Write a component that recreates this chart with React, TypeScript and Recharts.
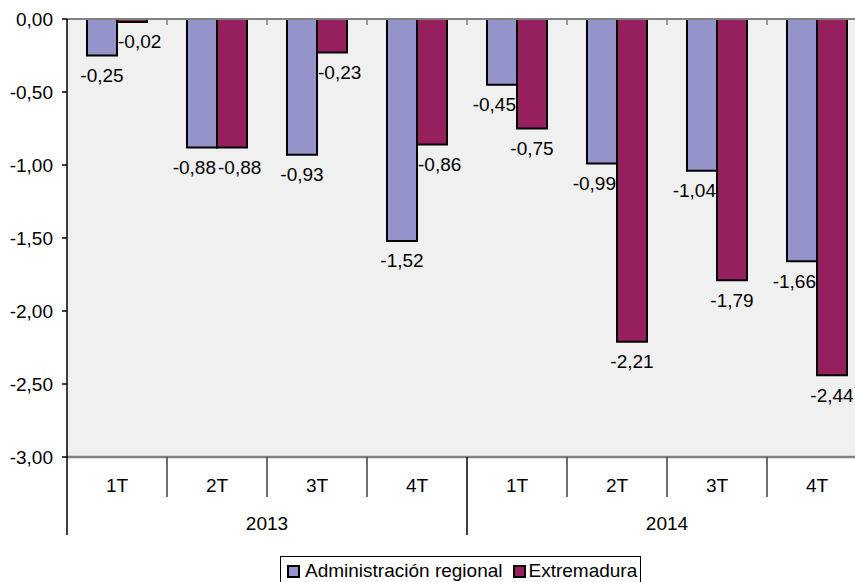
import { Bar, BarChart, CartesianGrid, LabelList, Legend, ReferenceLine, XAxis, YAxis } from 'recharts';

const quarters = ['1T', '2T', '3T', '4T', '1T', '2T', '3T', '4T'];
const years = ['2013', '2014'];
const adminRegional = [-0.25, -0.88, -0.93, -1.52, -0.45, -0.99, -1.04, -1.66];
const extremadura = [-0.02, -0.88, -0.23, -0.86, -0.75, -2.21, -1.79, -2.44];
const yTicks = [0, -0.5, -1, -1.5, -2, -2.5, -3];

const data = quarters.map((q, i) => ({
  key: `${years[Math.floor(i / 4)]}-${q}`,
  quarter: q,
  year: years[Math.floor(i / 4)],
  admin: adminRegional[i],
  extremadura: extremadura[i],
}));

const FONT = '"Liberation Sans", Arial, sans-serif';
const FONT_SIZE = 19;
const TOP = 19;
const BLUE = '#9494CB';
const PURPLE = '#961F5E';

const fmt = (v: number) => v.toFixed(2).replace('.', ',');

function QuarterTick(props: any) {
  const { x, y, payload } = props;
  const i = payload.index ?? props.index;
  const half = payload.offset || 50;
  const left = x - half;
  const row = data[i];
  return (
    <g>
      {/* small ticks on the zero line */}
      {i > 0 && <line x1={left} x2={left} y1={TOP} y2={TOP + 6} stroke="#808080" strokeWidth={1.5} />}
      <text x={x} y={y + 28} textAnchor="middle" dominantBaseline="central" fontSize={FONT_SIZE} fontFamily={FONT} fill="#000">
        {row.quarter}
      </text>
      {i % 4 === 0 ? (
        <>
          <line x1={left} x2={left} y1={y} y2={y + 78} stroke="#000" strokeWidth={1.5} />
          <text x={left + half * 4} y={y + 66} textAnchor="middle" dominantBaseline="central" fontSize={FONT_SIZE} fontFamily={FONT} fill="#000">
            {row.year}
          </text>
        </>
      ) : (
        <line x1={left} x2={left} y1={y} y2={y + 40} stroke="#404040" strokeWidth={1.5} />
      )}
      {i === data.length - 1 && <line x1={x + half} x2={x + half} y1={y} y2={y + 78} stroke="#000" strokeWidth={1.5} />}
    </g>
  );
}

function makeLabel(series: 'admin' | 'extremadura') {
  return (props: any) => {
    const { x, y, width, height, value, index } = props;
    const bottom = Math.max(y, y + height);
    const other = series === 'admin' ? extremadura[index] : adminRegional[index];
    let tx = x + width / 2;
    let anchor: 'middle' | 'start' | 'end' = 'middle';
    if (other <= value) {
      if (series === 'admin') {
        tx = x + width - 1;
        anchor = 'end';
      } else {
        tx = x + 1;
        anchor = 'start';
      }
    }
    return (
      <text x={tx} y={bottom + 20} textAnchor={anchor} dominantBaseline="central" fontSize={FONT_SIZE} fontFamily={FONT} fill="#000">
        {fmt(value)}
      </text>
    );
  };
}

function LegendBox() {
  const marker = (color: string) => (
    <span style={{ display: 'inline-block', width: 13, height: 13, boxSizing: 'border-box', border: '2px solid #000', background: color }} />
  );
  return (
    <div
      style={{
        display: 'inline-flex',
        alignItems: 'center',
        border: '1px solid #000',
        padding: '3px 3px 6px 6px',
        background: '#fff',
        fontFamily: FONT,
        fontSize: FONT_SIZE,
        lineHeight: '22px',
        whiteSpace: 'nowrap',
      }}
    >
      {marker(BLUE)}
      <span style={{ marginLeft: 5, marginRight: 10 }}>Administración regional</span>
      {marker(PURPLE)}
      <span style={{ marginLeft: 3 }}>Extremadura</span>
    </div>
  );
}

export default function App() {
  return (
    <div style={{ position: 'absolute', left: 0, top: 0, width: 855, height: 582, overflow: 'hidden', background: '#fff' }}>
      <BarChart
        width={870}
        height={582}
        data={data}
        margin={{ top: TOP, right: 3, bottom: 45, left: 0 }}
        barCategoryGap="20%"
        barGap={0}
      >
        <CartesianGrid fill="#F0F0F0" horizontal={false} vertical={false} />
        <XAxis
          dataKey="key"
          height={80}
          interval={0}
          tickLine={false}
          tickSize={0}
          tickMargin={0}
          axisLine={{ stroke: '#808080', strokeWidth: 2.5 }}
          tick={<QuarterTick />}
        />
        <YAxis
          width={67}
          domain={[-3, 0]}
          ticks={yTicks}
          tickFormatter={fmt}
          tickSize={5}
          tickMargin={9}
          tickLine={{ stroke: '#000', strokeWidth: 1.5 }}
          axisLine={{ stroke: '#000', strokeWidth: 1.5 }}
          tick={{ fontSize: FONT_SIZE, fontFamily: FONT, fill: '#000' }}
        />
        <ReferenceLine y={0} stroke="#808080" strokeWidth={2} />
        <Bar dataKey="admin" name="Administración regional" fill={BLUE} stroke="#000" strokeWidth={2} isAnimationActive={false}>
          <LabelList dataKey="admin" content={makeLabel('admin')} />
        </Bar>
        <Bar dataKey="extremadura" name="Extremadura" fill={PURPLE} stroke="#000" strokeWidth={2} isAnimationActive={false}>
          <LabelList dataKey="extremadura" content={makeLabel('extremadura')} />
        </Bar>
        <Legend
          layout="horizontal"
          verticalAlign="middle"
          align="center"
          content={<LegendBox />}
          wrapperStyle={{ top: 556, left: 280, width: 'auto' }}
        />
      </BarChart>
    </div>
  );
}
